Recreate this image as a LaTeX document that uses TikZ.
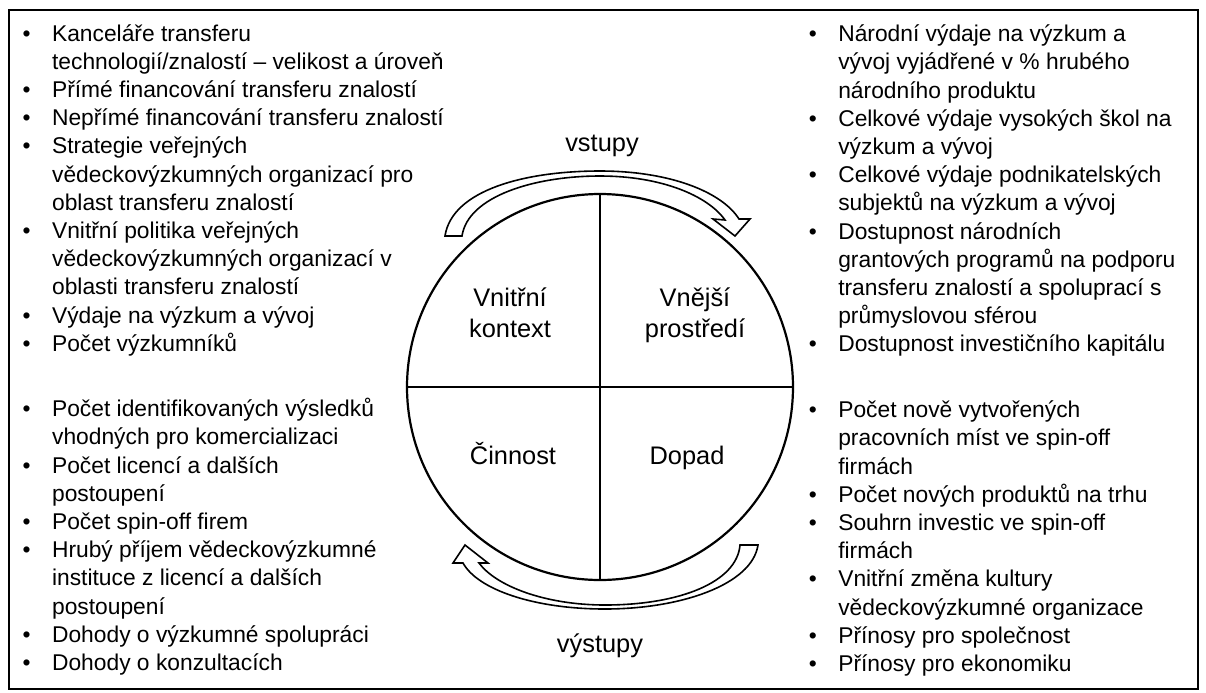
\documentclass[tikz,border=0pt]{standalone}
\usepackage{fontspec}
\setmainfont{Liberation Sans}
\usetikzlibrary{positioning}
\newcommand\bul{\makebox[14.7pt][l]{\textbullet}}
\tikzset{
  list/.style={anchor=north west, inner sep=0pt, font=\fontsize{11.4}{14.1}\selectfont},
  lab/.style={anchor=base, inner sep=0pt, align=center, font=\fontsize{12.7}{15.5}\selectfont},
  band/.style={draw, line width=0.8pt, fill=white, line join=miter},
}
\begin{document}
\begin{tikzpicture}[x=0.5pt, y=-0.5pt]
  \useasboundingbox (0,0) rectangle (1206,692);
  \draw[line width=1pt] (9,10) rectangle (1198,689);

  \node[list] (vn) at (22.3,21) {\begin{tabular}{@{}l@{}l@{}}
    \bul & Kanceláře transferu\\
         & technologií/znalostí – velikost a úroveň\\
    \bul & Přímé financování transferu znalostí\\
    \bul & Nepřímé financování transferu znalostí\\
    \bul & Strategie veřejných\\
         & vědeckovýzkumných organizací pro\\
         & oblast transferu znalostí\\
    \bul & Vnitřní politika veřejných\\
         & vědeckovýzkumných organizací v\\
         & oblasti transferu znalostí\\
    \bul & Výdaje na výzkum a vývoj\\
    \bul & Počet výzkumníků
  \end{tabular}};
  \node[list] (ci) at (22.3,396.5) {\begin{tabular}{@{}l@{}l@{}}
    \bul & Počet identifikovaných výsledků\\
         & vhodných pro komercializaci\\
    \bul & Počet licencí a dalších\\
         & postoupení\\
    \bul & Počet spin-off firem\\
    \bul & Hrubý příjem vědeckovýzkumné\\
         & instituce z licencí a dalších\\
         & postoupení\\
    \bul & Dohody o výzkumné spolupráci\\
    \bul & Dohody o konzultacích
  \end{tabular}};
  \node[list] (ve) at (808.5,21.5) {\begin{tabular}{@{}l@{}l@{}}
    \bul & Národní výdaje na výzkum a\\
         & vývoj vyjádřené v \% hrubého\\
         & národního produktu\\
    \bul & Celkové výdaje vysokých škol na\\
         & výzkum a vývoj\\
    \bul & Celkové výdaje podnikatelských\\
         & subjektů na výzkum a vývoj\\
    \bul & Dostupnost národních\\
         & grantových programů na podporu\\
         & transferu znalostí a spoluprací s\\
         & průmyslovou sférou\\
    \bul & Dostupnost investičního kapitálu
  \end{tabular}};
  \node[list] (dp) at (808.5,397.5) {\begin{tabular}{@{}l@{}l@{}}
    \bul & Počet nově vytvořených\\
         & pracovních míst ve spin-off\\
         & firmách\\
    \bul & Počet nových produktů na trhu\\
    \bul & Souhrn investic ve spin-off\\
         & firmách\\
    \bul & Vnitřní změna kultury\\
         & vědeckovýzkumné organizace\\
    \bul & Přínosy pro společnost\\
    \bul & Přínosy pro ekonomiku
  \end{tabular}};

  \node[circle, draw, line width=1.1pt, minimum size=193pt, inner sep=0pt] (c) at (600,387) {};
  \draw[line width=1.1pt] (c.north) -- (c.south);
  \draw[line width=1.1pt] (c.west) -- (c.east);

  \node[lab] (q1) at (510,337) {Vnitřní\\kontext};
  \node[lab] (q2) at (695,337) {Vnější\\prostředí};
  \node[lab] (q3) at (513,464) {Činnost};
  \node[lab] (q4) at (687,464) {Dopad};

  \draw[band] (445,236) .. controls (452,190) and (525,171) .. (600,171)
    .. controls (670,171) and (722,192) .. (739,219) -- (750,219) -- (735,236)
    -- (713,219) -- (725,220) .. controls (708,196) and (662,176) .. (600,176)
    .. controls (535,176) and (468,196) .. (462,236) -- cycle;
  \draw[band] (758,545) .. controls (752,585) and (680,609) .. (605,609)
    .. controls (535,609) and (478,590) .. (463,563) -- (453,563) -- (465,545)
    -- (488,563) -- (479,563) .. controls (496,586) and (545,605) .. (605,605)
    .. controls (680,605) and (737,582) .. (740,545) -- cycle;

  \node[lab] (in) at (602,151) {vstupy};
  \node[lab] (out) at (600,652) {výstupy};
\end{tikzpicture}
\end{document}
